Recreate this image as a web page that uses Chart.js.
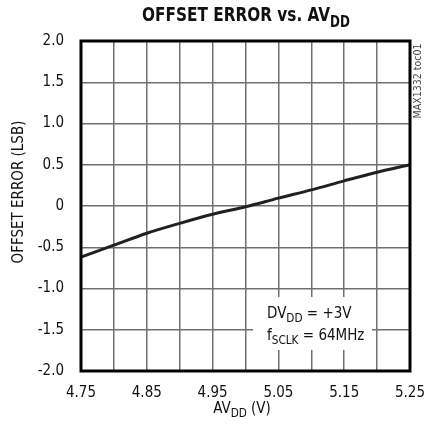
<!DOCTYPE html>
<html lang="en">
<head>
<meta charset="UTF-8">
<title>Offset Error vs. AVDD</title>
<script src="https://cdn.jsdelivr.net/npm/chart.js"></script>
<style>
  html, body { margin: 0; padding: 0; background: #fff; }
  #wrap { width: 424px; height: 434px; position: relative; }
</style>
</head>
<body>
<div id="wrap"><canvas id="offsetChart" width="424" height="434"></canvas></div>
<script>
// supply voltage (V) and offset error (LSB)
var avdd = [4.75, 4.80, 4.85, 4.90, 4.95, 5.00, 5.05, 5.10, 5.15, 5.20, 5.25];
var offsetErr = [-0.62, -0.475, -0.33, -0.21, -0.10, -0.01, 0.095, 0.195, 0.305, 0.41, 0.50];
var xTickLabels = ['4.75', '4.85', '4.95', '5.05', '5.15', '5.25'];
var yTickLabels = ['-2.0', '-1.5', '-1.0', '-0.5', '0', '0.5', '1.0', '1.5', '2.0'];

var FONT = '"Liberation Sans Narrow", "DejaVu Sans Condensed", "Arial Narrow", sans-serif';

// draws a run of text pieces, some of them as subscripts; sx squeezes horizontally
function drawParts(ctx, parts, x, y, size, align, sx) {
    sx = sx || 1;
    var w = 0;
    parts.forEach(function (p) {
        ctx.font = (p[2] || '') + ' ' + (p[1] ? size * 0.78 : size) + 'px ' + FONT;
        w += ctx.measureText(p[0]).width;
    });
    ctx.save();
    ctx.translate(x, y);
    ctx.scale(sx, 1);
    var cx = align === 'center' ? -w / 2 : 0;
    parts.forEach(function (p) {
        ctx.font = (p[2] || '') + ' ' + (p[1] ? size * 0.78 : size) + 'px ' + FONT;
        ctx.fillText(p[0], cx, p[1] ? size * 0.28 : 0);
        cx += ctx.measureText(p[0]).width;
    });
    ctx.restore();
}

var extras = {
    id: 'extras',
    beforeDatasetsDraw: function (chart) {
        var ctx = chart.ctx;
        // white box behind the conditions text
        ctx.save();
        ctx.fillStyle = '#fff';
        ctx.fillRect(253, 297, 119, 53);
        ctx.restore();
    },
    afterDraw: function (chart) {
        var ctx = chart.ctx;
        var a = chart.chartArea;
        ctx.save();
        // heavy frame
        ctx.strokeStyle = '#000';
        ctx.lineWidth = 3;
        ctx.strokeRect(a.left, a.top, a.right - a.left, a.bottom - a.top);

        ctx.fillStyle = '#111';
        ctx.textBaseline = 'alphabetic';
        ctx.textAlign = 'left';
        // title
        drawParts(ctx, [['OFFSET ERROR vs. AV', false, 'bold'], ['DD', true, 'bold']], 246, 21, 20, 'center', 0.85);
        // conditions
        drawParts(ctx, [['DV', false], ['DD', true], [' = +3V', false]], 267, 318, 15);
        drawParts(ctx, [['f', false], ['SCLK', true], [' = 64MHz', false]], 267, 340, 15);
        // x axis title
        drawParts(ctx, [['AV', false], ['DD', true], [' (V)', false]], 242, 413, 15, 'center');
        // y axis title
        ctx.save();
        ctx.translate(23, 192);
        ctx.rotate(-Math.PI / 2);
        drawParts(ctx, [['OFFSET ERROR (LSB)', false]], 0, 0, 15, 'center');
        ctx.restore();
        // side tag
        ctx.save();
        ctx.translate(421, 81);
        ctx.rotate(-Math.PI / 2);
        ctx.fillStyle = '#444';
        drawParts(ctx, [['MAX1332 toc01', false]], 0, 0, 10.5, 'center');
        ctx.restore();
        ctx.restore();
    }
};

var ctx = document.getElementById('offsetChart').getContext('2d');
var chart = new Chart(ctx, {
    type: 'line',
    data: {
        labels: avdd,
        datasets: [{
            data: avdd.map(function (v, i) { return { x: v, y: offsetErr[i] }; }),
            borderColor: '#231f20',
            borderWidth: 3,
            pointRadius: 0,
            tension: 0.3,
            fill: false
        }]
    },
    options: {
        responsive: false,
        animation: false,
        layout: { padding: { top: 41, right: 14, left: 0, bottom: 0 } },
        plugins: { legend: { display: false }, tooltip: { enabled: false }, title: { display: false } },
        scales: {
            x: {
                type: 'linear',
                min: 4.75,
                max: 5.25,
                afterBuildTicks: function (scale) {
                    scale.ticks = avdd.map(function (v) { return { value: v }; });
                },
                afterFit: function (scale) {
                    scale.height = 63;
                    scale.paddingLeft = 0;
                    scale.paddingRight = 0;
                },
                grid: { color: '#707070', lineWidth: 1.5, drawTicks: false },
                border: { display: false },
                ticks: {
                    padding: 13,
                    color: '#111',
                    font: { family: FONT, size: 15 },
                    maxRotation: 0,
                    autoSkip: false,
                    callback: function (v, i) {
                        return i % 2 === 0 ? xTickLabels[i / 2] : '';
                    }
                }
            },
            y: {
                min: -2,
                max: 2,
                afterBuildTicks: function (scale) {
                    scale.ticks = yTickLabels.map(function (t) { return { value: parseFloat(t) }; });
                },
                afterFit: function (scale) {
                    scale.width = 81;
                    scale.paddingTop = 0;
                    scale.paddingBottom = 0;
                },
                grid: { color: '#707070', lineWidth: 1.5, drawTicks: false },
                border: { display: false },
                ticks: {
                    padding: 17,
                    color: '#111',
                    font: { family: FONT, size: 15 },
                    callback: function (v, i) { return yTickLabels[i]; }
                }
            }
        }
    },
    plugins: [extras]
});
</script>
</body>
</html>
